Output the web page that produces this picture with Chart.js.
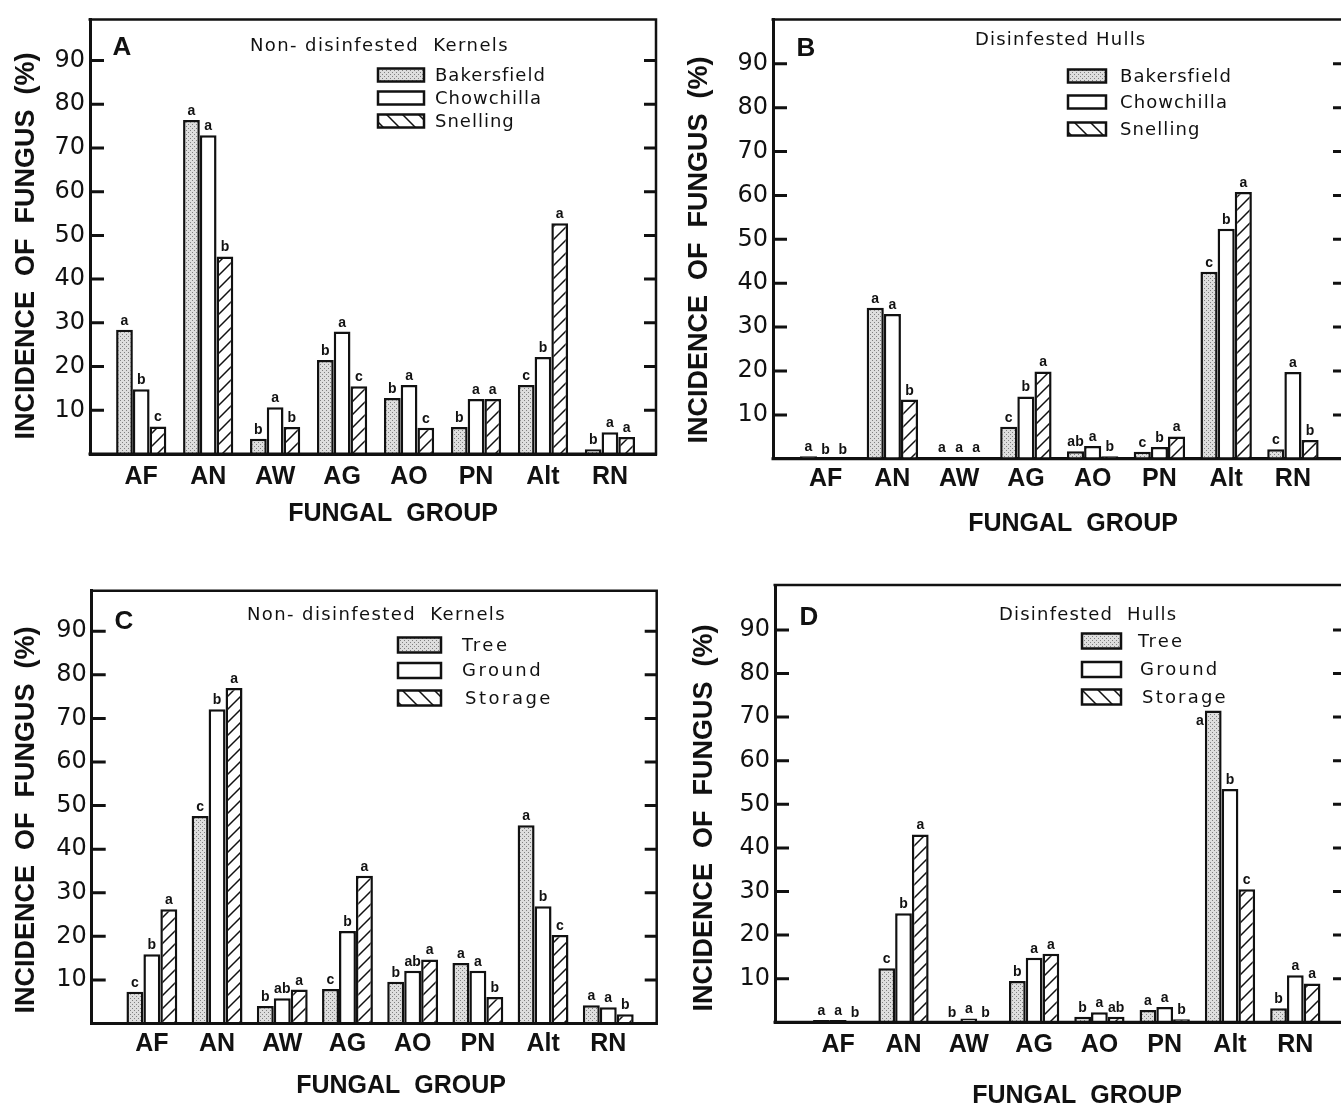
<!DOCTYPE html>
<html>
<head>
<meta charset="utf-8">
<title>Incidence of fungus by fungal group</title>
<script src="https://cdn.jsdelivr.net/npm/chart.js@4.4.1/dist/chart.umd.min.js"></script>
<style>
  html, body { margin: 0; padding: 0; background: #fff; }
  body { width: 1341px; height: 1107px; overflow: hidden; position: relative; }
  canvas { position: absolute; }
</style>
</head>
<body>
<canvas id="chartA" width="680" height="560" style="left:0;top:0"></canvas>
<canvas id="chartB" width="680" height="560" style="left:680px;top:0"></canvas>
<canvas id="chartC" width="680" height="547" style="left:0;top:560px"></canvas>
<canvas id="chartD" width="680" height="547" style="left:680px;top:560px"></canvas>
<script>
const groups = ['AF', 'AN', 'AW', 'AG', 'AO', 'PN', 'Alt', 'RN'];
const yTicks = [10, 20, 30, 40, 50, 60, 70, 80, 90];
const locations = ['Bakersfield', 'Chowchilla', 'Snelling'];
const sources = ['Tree', 'Ground', 'Storage'];

// A: non-disinfested kernels, by location
const kernelBakersfield = [28.4, 76.4, 3.5, 21.5, 12.8, 6.2, 15.8, 1.1];
const kernelChowchilla  = [14.8, 72.9, 10.7, 28.0, 15.8, 12.6, 22.2, 5.0];
const kernelSnelling    = [6.3, 45.2, 6.2, 15.5, 6.0, 12.6, 52.8, 3.9];
const kernelBakersfieldSig = ['a', 'a', 'b', 'b', 'b', 'b', 'c', 'b'];
const kernelChowchillaSig  = ['b', 'a', 'a', 'a', 'a', 'a', 'b', 'a'];
const kernelSnellingSig    = ['c', 'b', 'b', 'c', 'c', 'a', 'a', 'a'];

// B: disinfested hulls, by location
const hullBakersfield = [0.6, 34.4, 0.3, 7.3, 1.7, 1.6, 42.6, 2.2];
const hullChowchilla  = [0, 33.0, 0.3, 14.2, 2.9, 2.7, 52.4, 19.8];
const hullSnelling    = [0, 13.5, 0.3, 19.9, 0.6, 5.1, 60.8, 4.3];
const hullBakersfieldSig = ['a', 'a', 'a', 'c', 'ab', 'c', 'c', 'c'];
const hullChowchillaSig  = ['b', 'a', 'a', 'b', 'a', 'b', 'b', 'a'];
const hullSnellingSig    = ['b', 'b', 'a', 'a', 'b', 'a', 'a', 'b'];

// C: non-disinfested kernels, by nut source
const kernelTree    = [7.3, 47.6, 4.0, 7.9, 9.6, 13.9, 45.5, 4.2];
const kernelGround  = [15.9, 72.1, 5.8, 21.2, 12.1, 12.1, 26.9, 3.7];
const kernelStorage = [26.2, 77.0, 7.8, 33.9, 14.7, 6.1, 20.3, 2.1];
const kernelTreeSig    = ['c', 'c', 'b', 'c', 'b', 'a', 'a', 'a'];
const kernelGroundSig  = ['b', 'b', 'ab', 'b', 'ab', 'a', 'b', 'a'];
const kernelStorageSig = ['a', 'a', 'a', 'a', 'a', 'b', 'c', 'b'];

// D: disinfested hulls, by nut source
const hullTree    = [0.5, 12.4, 0, 9.5, 1.3, 2.8, 71.5, 3.2];
const hullGround  = [0.5, 25.0, 0.9, 14.8, 2.3, 3.5, 53.5, 10.8];
const hullStorage = [0, 43.1, 0, 15.7, 1.3, 0.7, 30.5, 8.9];
const hullTreeSig    = ['a', 'c', 'b', 'b', 'b', 'a', 'a', 'b'];
const hullGroundSig  = ['a', 'b', 'a', 'a', 'a', 'a', 'b', 'a'];
const hullStorageSig = ['b', 'a', 'b', 'a', 'ab', 'b', 'c', 'a'];

const ink = '#111';
const xTitle = 'FUNGAL  GROUP';
const yTitle = 'INCIDENCE  OF  FUNGUS  (%)';

function stipple() {
  const c = document.createElement('canvas');
  c.width = c.height = 4;
  const g = c.getContext('2d');
  g.fillStyle = '#dedede';
  g.fillRect(0, 0, 4, 4);
  g.fillStyle = '#808080';
  g.fillRect(0, 0, 1, 1);
  g.fillRect(2, 2, 1, 1);
  return g.createPattern(c, 'repeat');
}

function hatch(size, back) {
  const c = document.createElement('canvas');
  c.width = c.height = size;
  const g = c.getContext('2d');
  g.fillStyle = '#fff';
  g.fillRect(0, 0, size, size);
  g.strokeStyle = ink;
  g.lineWidth = 1.5;
  g.beginPath();
  if (!back) {
    g.moveTo(0, size); g.lineTo(size, 0);
    g.moveTo(-2, 2); g.lineTo(2, -2);
    g.moveTo(size - 2, size + 2); g.lineTo(size + 2, size - 2);
  } else {
    g.moveTo(0, 0); g.lineTo(size, size);
    g.moveTo(size - 2, -2); g.lineTo(size + 2, 2);
    g.moveTo(-2, size - 2); g.lineTo(2, size + 2);
  }
  g.stroke();
  return g.createPattern(c, 'repeat');
}

const fills = [stipple(), '#fff', hatch(13, false)];
const legendHatch = hatch(16, true);

const panelDecor = {
  id: 'panelDecor',
  afterDatasetsDraw(chart, args, o) {
    const ctx = chart.ctx;
    const { left, right, top, bottom } = chart.chartArea;
    const ys = chart.scales.y;
    const X = v => v - o.ox;
    const Y = v => v - o.oy;
    ctx.save();
    ctx.strokeStyle = ink;
    ctx.fillStyle = ink;

    // frame: top + right edges, baseline redrawn over the bars
    ctx.lineWidth = 2.5;
    ctx.beginPath();
    ctx.moveTo(left - 1.5, top);
    ctx.lineTo(right, top);
    ctx.lineTo(right, bottom + 1.5);
    ctx.stroke();
    ctx.lineWidth = 3;
    ctx.beginPath();
    ctx.moveTo(left - 1.5, bottom);
    ctx.lineTo(right, bottom);
    ctx.stroke();

    // inward tick marks on both sides
    ctx.beginPath();
    yTicks.forEach(v => {
      const py = ys.getPixelForValue(v);
      ctx.moveTo(left, py); ctx.lineTo(left + 14, py);
      ctx.moveTo(right, py); ctx.lineTo(right - 12, py);
    });
    ctx.stroke();

    // significance letters
    ctx.font = 'bold 14px "Liberation Sans", Arial, sans-serif';
    ctx.textBaseline = 'alphabetic';
    chart.data.datasets.forEach((ds, di) => {
      chart.getDatasetMeta(di).data.forEach((bar, i) => {
        const side = (o.sideNotes || []).some(n => n[0] === di && n[1] === i);
        if (side) {
          ctx.textAlign = 'right';
          ctx.fillText(ds.letters[i], bar.x - bar.width / 2 - 1, bar.y + 14);
        } else {
          ctx.textAlign = 'center';
          ctx.fillText(ds.letters[i], bar.x, bar.y - 5);
        }
      });
    });

    // legend
    const lg = o.legend;
    chart.data.datasets.forEach((ds, k) => {
      const cy = Y(lg.rows[k]);
      const bx = X(lg.boxX);
      ctx.fillStyle = k === 2 ? legendHatch : ds.backgroundColor;
      ctx.fillRect(bx, cy - lg.boxH / 2, lg.boxW, lg.boxH);
      ctx.lineWidth = 2.5;
      ctx.strokeRect(bx, cy - lg.boxH / 2, lg.boxW, lg.boxH);
      ctx.fillStyle = ink;
      ctx.font = '18px "DejaVu Sans", sans-serif';
      ctx.letterSpacing = lg.spacing;
      ctx.textAlign = 'left';
      ctx.textBaseline = 'middle';
      ctx.fillText(ds.label, X(lg.textX[k]), cy + 1);
    });

    // subtitle
    ctx.font = '18px "DejaVu Sans", sans-serif';
    ctx.letterSpacing = o.subtitle.spacing;
    ctx.textAlign = 'left';
    ctx.textBaseline = 'middle';
    ctx.fillText(o.subtitle.text, X(o.subtitle.x), Y(o.subtitle.y));
    ctx.letterSpacing = '0px';

    // panel letter
    ctx.font = 'bold 26px "Liberation Sans", Arial, sans-serif';
    ctx.textAlign = 'center';
    ctx.fillText(o.tag.text, X(o.tag.x), Y(o.tag.y));

    // axis titles
    ctx.font = 'bold 25px "Liberation Sans", Arial, sans-serif';
    ctx.fillText(xTitle, X(o.xTitle[0]), Y(o.xTitle[1]));
    ctx.save();
    ctx.font = 'bold 27px "Liberation Sans", Arial, sans-serif';
    ctx.translate(X(o.yTitle[0]), Y(o.yTitle[1]));
    ctx.rotate(-Math.PI / 2);
    ctx.fillText(yTitle, 0, 0);
    ctx.restore();

    ctx.restore();
  }
};

function makePanel(id, p) {
  const canvas = document.getElementById(id);
  const W = canvas.width, H = canvas.height;
  new Chart(canvas, {
    type: 'bar',
    data: {
      datasets: p.series.map((s, k) => ({
        label: p.names[k],
        data: s.values.map((v, i) => ({ x: i, y: v })),
        letters: s.letters,
        backgroundColor: fills[k],
        borderColor: ink,
        borderWidth: 2.5,
        borderSkipped: 'start',
        categoryPercentage: p.catPct,
        barPercentage: 1.0
      }))
    },
    options: {
      responsive: false,
      animation: false,
      layout: { padding: { top: p.area.top, right: W - p.area.right, left: 0, bottom: 0 } },
      plugins: {
        legend: { display: false },
        tooltip: { enabled: false },
        panelDecor: p.decor
      },
      scales: {
        x: {
          type: 'linear',
          min: p.xMin,
          max: p.xMax,
          offset: false,
          afterBuildTicks: s => { s.ticks = groups.map((g, i) => ({ value: i })); },
          afterFit: s => { s.height = H - p.area.bottom; },
          grid: { display: false, drawTicks: false },
          border: { color: ink, width: 3 },
          ticks: {
            autoSkip: false,
            maxRotation: 0,
            padding: p.tickPad,
            color: ink,
            font: { family: '"Liberation Sans", Arial, sans-serif', size: 25, weight: 'bold' },
            callback: v => groups[v]
          }
        },
        y: {
          min: 0,
          max: p.yMax,
          afterBuildTicks: s => { s.ticks = yTicks.map(v => ({ value: v })); },
          afterFit: s => { s.width = p.area.left; },
          grid: { display: false, drawTicks: false },
          border: { color: ink, width: 3 },
          ticks: {
            padding: 5,
            color: ink,
            font: { family: '"DejaVu Sans", sans-serif', size: 24 }
          }
        }
      }
    },
    plugins: [panelDecor]
  });
}

makePanel('chartA', {
  names: locations,
  series: [
    { values: kernelBakersfield, letters: kernelBakersfieldSig },
    { values: kernelChowchilla, letters: kernelChowchillaSig },
    { values: kernelSnelling, letters: kernelSnellingSig }
  ],
  area: { left: 90, right: 656, top: 14, bottom: 454 },
  yMax: 99.4, xMin: -0.765, xMax: 7.688, catPct: 0.75, tickPad: 8,
  decor: {
    ox: 0, oy: 0,
    tag: { text: 'A', x: 122, y: 48 },
    subtitle: { text: 'Non- disinfested  Kernels', x: 250, y: 46, spacing: '1.4px' },
    legend: { boxX: 378, boxW: 46, boxH: 13, rows: [75, 98, 121], textX: [435, 435, 435], spacing: '1px' },
    xTitle: [393, 514],
    yTitle: [27, 246]
  }
});

makePanel('chartB', {
  names: locations,
  series: [
    { values: hullBakersfield, letters: hullBakersfieldSig },
    { values: hullChowchilla, letters: hullChowchillaSig },
    { values: hullSnelling, letters: hullSnellingSig }
  ],
  area: { left: 93, right: 665, top: 9.3, bottom: 458.8 },
  yMax: 100.1, xMin: -0.788, xMax: 7.78, catPct: 0.77, tickPad: 5,
  decor: {
    ox: 680, oy: 0,
    tag: { text: 'B', x: 806, y: 49 },
    subtitle: { text: 'Disinfested Hulls', x: 975, y: 40, spacing: '1.2px' },
    legend: { boxX: 1068, boxW: 38, boxH: 13, rows: [76, 102, 129], textX: [1120, 1120, 1120], spacing: '1.1px' },
    xTitle: [1073, 524],
    yTitle: [700, 250]
  }
});

makePanel('chartC', {
  names: sources,
  series: [
    { values: kernelTree, letters: kernelTreeSig },
    { values: kernelGround, letters: kernelGroundSig },
    { values: kernelStorage, letters: kernelStorageSig }
  ],
  area: { left: 91.7, right: 656.7, top: 30.7, bottom: 463.5 },
  yMax: 99.3, xMin: -0.923, xMax: 7.743, catPct: 0.78, tickPad: 6,
  decor: {
    ox: 0, oy: 560,
    tag: { text: 'C', x: 124, y: 622 },
    subtitle: { text: 'Non- disinfested  Kernels', x: 247, y: 615, spacing: '1.4px' },
    legend: { boxX: 398, boxW: 43, boxH: 15, rows: [645, 670.5, 698], textX: [462, 462, 465], spacing: '2.5px' },
    xTitle: [401, 1086],
    yTitle: [27, 820]
  }
});

makePanel('chartD', {
  names: sources,
  series: [
    { values: hullTree, letters: hullTreeSig },
    { values: hullGround, letters: hullGroundSig },
    { values: hullStorage, letters: hullStorageSig }
  ],
  area: { left: 95, right: 665, top: 25, bottom: 462.3 },
  yMax: 100.3, xMin: -0.968, xMax: 7.761, catPct: 0.77, tickPad: 8,
  decor: {
    ox: 680, oy: 560,
    tag: { text: 'D', x: 809, y: 618 },
    subtitle: { text: 'Disinfested  Hulls', x: 999, y: 615, spacing: '1.2px' },
    legend: { boxX: 1082, boxW: 39, boxH: 15, rows: [641, 669.5, 697], textX: [1138, 1140, 1142], spacing: '2.2px' },
    xTitle: [1077, 1096],
    yTitle: [705, 818],
    sideNotes: [[0, 6]]
  }
});
</script>
</body>
</html>
